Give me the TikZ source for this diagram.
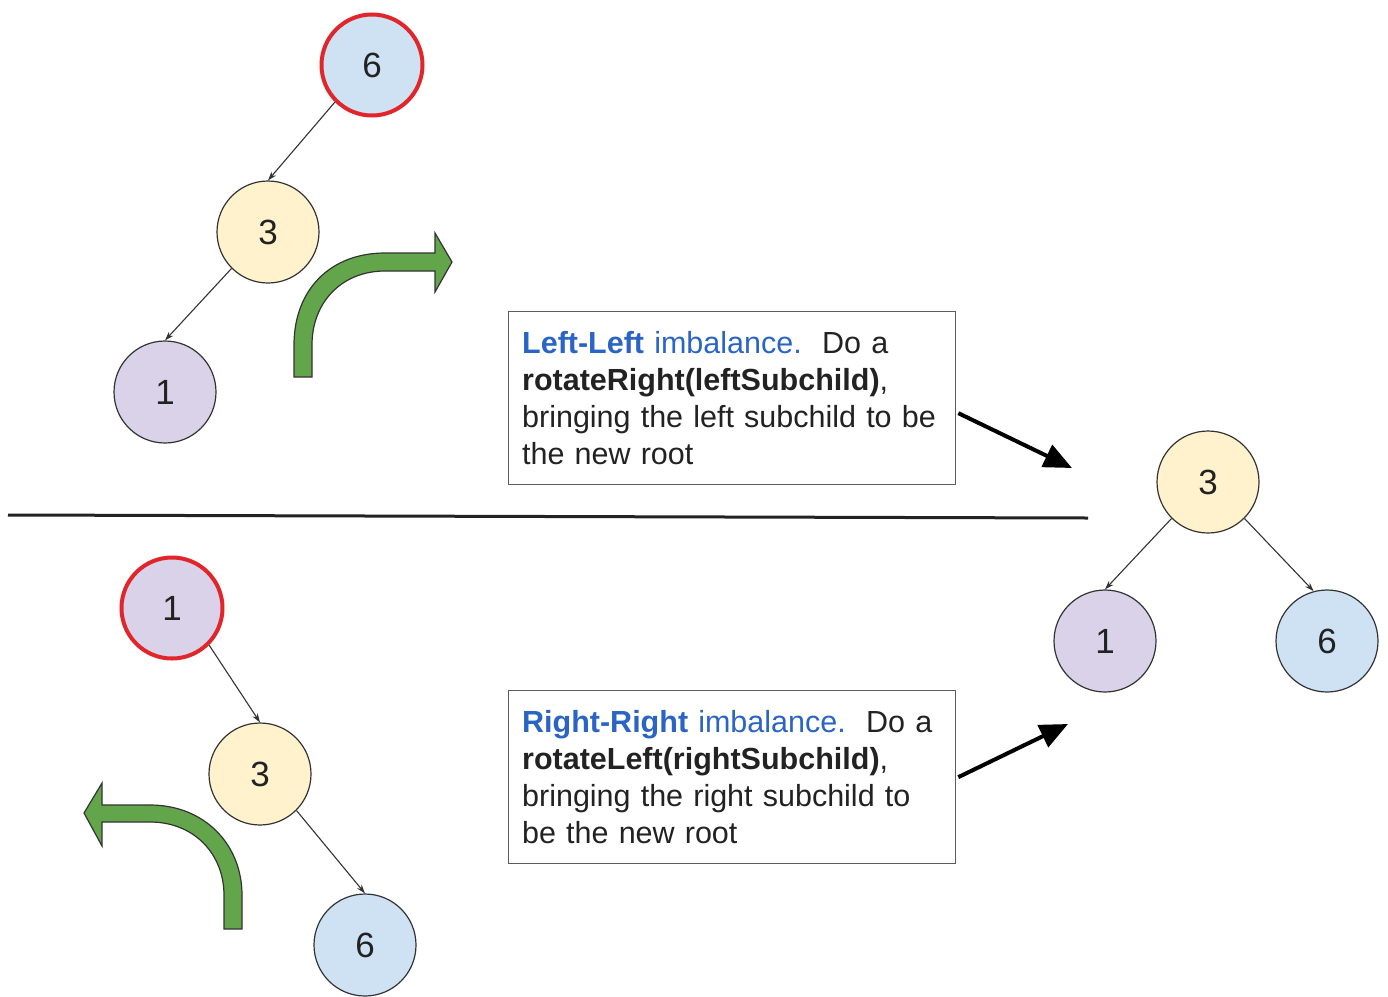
\documentclass[tikz,border=0pt]{standalone}
\usepackage{fontspec}
\setmainfont{Liberation Sans}
\usetikzlibrary{arrows.meta,calc}
\definecolor{nblue}{HTML}{CFE2F3}
\definecolor{nyellow}{HTML}{FFF2CC}
\definecolor{npurple}{HTML}{D9D2E9}
\definecolor{redc}{HTML}{E0262B}
\definecolor{edgec}{HTML}{333333}
\definecolor{txt}{HTML}{222222}
\definecolor{bluet}{HTML}{2A64C4}
\definecolor{greenf}{HTML}{62A54A}
\begin{document}
\begin{tikzpicture}[x=1pt,y=-1pt,
  tnode/.style={circle, draw=edgec, line width=1.2pt, minimum size=102pt, inner sep=0pt,
    font=\fontsize{35}{40}\selectfont, text=txt},
  hot/.style={draw=redc, line width=4pt, minimum size=101pt},
  edge/.style={draw=edgec, line width=1.1pt, -{Stealth[length=9pt,width=6pt]}},
  bigarrow/.style={draw=black, line width=4pt, -{Triangle[length=28pt,width=24pt]}},
  tbox/.style={draw=edgec!80, line width=1.3pt, text width=420pt, inner xsep=13.5pt,
    minimum height=173pt, align=left, anchor=north west, text=txt,
    font=\fontsize{30.5}{37}\selectfont},
  greenarrow/.style={fill=greenf, draw=edgec, line width=1.2pt, line join=miter}
]
\useasboundingbox (0,0) rectangle (1388,996);

% top-left tree
\node[tnode, fill=nblue, hot] (t6) at (372,65) {6};
\node[tnode, fill=nyellow] (t3) at (268,232) {3};
\node[tnode, fill=npurple] (t1) at (165,392) {1};
\draw[edge] (t6.225) -- (t3.north);
\draw[edge] (t3.225) -- (t1.north);

% bottom-left tree
\node[tnode, fill=npurple, hot] (b1) at (172,608) {1};
\node[tnode, fill=nyellow] (b3) at (260,774) {3};
\node[tnode, fill=nblue] (b6) at (365,945) {6};
\draw[edge] (b1.315) -- (b3.north);
\draw[edge] (b3.315) -- (b6.north);

% right tree
\node[tnode, fill=nyellow] (r3) at (1208,482) {3};
\node[tnode, fill=npurple] (r1) at (1105,641) {1};
\node[tnode, fill=nblue] (r6) at (1327,641) {6};
\draw[edge] (r3.225) -- (r1.north);
\draw[edge] (r3.315) -- (r6.105);

% divider
\coordinate (hl) at (8,515);
\coordinate (hr) at (1088,518);
\draw[line width=3pt, draw=txt] (hl) -- (hr);

% text boxes
\node[tbox] (boxA) at (508,311) {\textcolor{bluet}{\bfseries Left-Left} \textcolor{bluet}{imbalance.}\ \ Do a\\
\textbf{rotateRight(leftSubchild)},\\
bringing the left subchild to be\\
the new root};
\node[tbox] (boxB) at (508,690) {\textcolor{bluet}{\bfseries Right-Right} \textcolor{bluet}{imbalance.}\ \ Do a\\
\textbf{rotateLeft(rightSubchild)},\\
bringing the right subchild to\\
be the new root};

\coordinate (tipA) at (1072,468);
\coordinate (tipB) at (1068,724);
\draw[bigarrow] ($(boxA.east)+(2,15)$) -- (tipA);
\draw[bigarrow] ($(boxB.east)+(2,0)$) -- (tipB);

% green rotation arrows
\draw[greenarrow] (294,377) -- (294,345) .. controls (294,290) and (330,253) .. (385,253)
  -- (435,253) -- (435,233) -- (452,262) -- (435,292) -- (435,271) -- (385,271)
  .. controls (342,271) and (312,302) .. (312,345) -- (312,377) -- cycle;
\draw[greenarrow] (102,805) -- (150,805) .. controls (205,805) and (242,845) .. (242,895)
  -- (242,929) -- (224,929) -- (224,895) .. controls (224,855) and (195,822) .. (150,822)
  -- (102,822) -- (102,846) -- (84,813) -- (102,783) -- cycle;
\end{tikzpicture}
\end{document}
